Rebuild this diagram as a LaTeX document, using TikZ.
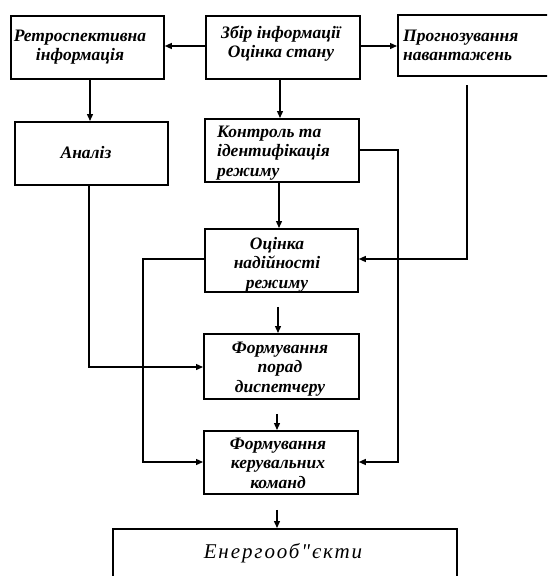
\documentclass[tikz,border=0pt]{standalone}
\usepackage{fontspec}
\setmainfont{Liberation Serif}
\newfontfamily\enfont[LetterSpace=9]{Liberation Serif}
\usetikzlibrary{arrows.meta}
\begin{document}
\begin{tikzpicture}[x=1pt,y=-1pt,
  box/.style={draw, line width=1.8pt, inner sep=0pt, rectangle, anchor=north west},
  lbl/.style={font=\fontsize{17.5}{18.5}\selectfont\bfseries\itshape, inner sep=0pt, align=center, anchor=base},
  lblb/.style={font=\fontsize{17.5}{19.5}\selectfont\bfseries\itshape, inner sep=0pt, align=center, anchor=base},
  conn/.style={line width=1.3pt},
  arr/.style={conn, -{Triangle[length=7pt,width=6pt]}}]
\useasboundingbox (0,0) rectangle (547,576);
\clip (0,0) rectangle (547,576);
% boxes
\node[box, minimum width=153pt, minimum height=63pt] (retro) at (10,15) {};
\node[box, minimum width=154pt, minimum height=63pt] (zbir) at (205,15) {};
\node[box, minimum width=160pt, minimum height=61pt] (prog) at (397,14) {};
\node[box, minimum width=153pt, minimum height=63pt] (analiz) at (14,121) {};
\node[box, minimum width=154pt, minimum height=63pt] (kontrol) at (204,118) {};
\node[box, minimum width=153pt, minimum height=63pt] (ocinka) at (204,228) {};
\node[box, minimum width=155pt, minimum height=65pt] (porad) at (203,333) {};
\node[box, minimum width=154pt, minimum height=63pt] (keruv) at (203,430) {};
\node[box, minimum width=344pt, minimum height=70pt] (energo) at (112,528) {};
% texts (anchor=base is the baseline of the last line)
\node[lbl] (tretro) at (80,60) {Ретроспективна\\інформація};
\node[lbl] (tzbir) at (281,57) {Збір інформації\\Оцінка стану};
\node[lbl, anchor=base west, align=left] (tprog) at (403,60) {Прогнозування\\навантажень};
\node[lbl] (tanaliz) at (86,158) {Аналіз};
\node[lblb, anchor=base west, align=left] (tkontrol) at (217,176) {Контроль та\\ідентифікація\\режиму};
\node[lblb] (tocinka) at (277,288) {Оцінка\\надійності\\режиму};
\node[lblb] (tporad) at (280,392) {Формування\\порад\\диспетчеру};
\node[lblb] (tkeruv) at (278,488) {Формування\\керувальних\\команд};
\node[font=\enfont\itshape\fontsize{21}{23}\selectfont, inner sep=0pt, anchor=base] (tenergo) at (283,558) {Енергооб\char"22 єкти};
% connectors
\coordinate (p1) at (467,85);
\draw[arr] (zbir.west |- 0,46) -- (retro.east |- 0,46);
\draw[arr] (zbir.east |- 0,46) -- (prog.west |- 0,46);
\draw[arr] (retro.south -| 90,0) -- (analiz.north -| 90,0);
\draw[arr] (zbir.south -| 280,0) -- (kontrol.north -| 280,0);
\draw[arr] (p1) |- (ocinka.east |- 0,259);
\draw[arr] (kontrol.east |- 0,150) -| (398,300) |- (keruv.east |- 0,462);
\draw[arr] (ocinka.west |- 0,259) -| (143,300) |- (keruv.west |- 0,462);
\draw[arr] (analiz.south -| 89,0) |- (porad.west |- 0,367);
\draw[arr] (kontrol.south -| 279,0) -- (ocinka.north -| 279,0);
\draw[arr, shorten <=14pt] (ocinka.south -| 278,0) -- (porad.north -| 278,0);
\draw[arr, shorten <=14pt] (porad.south -| 277,0) -- (keruv.north -| 277,0);
\draw[arr, shorten <=15pt] (keruv.south -| 277,0) -- (energo.north -| 277,0);
\end{tikzpicture}
\end{document}
